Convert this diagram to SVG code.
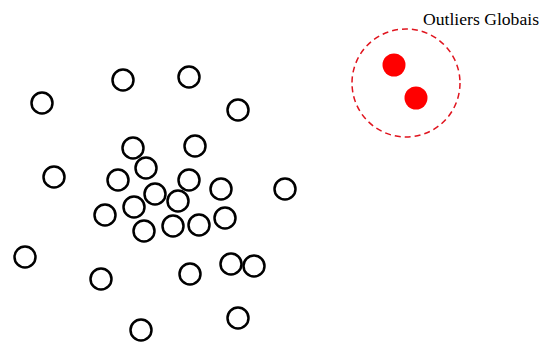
<svg xmlns="http://www.w3.org/2000/svg" width="541" height="342" viewBox="0 0 541 342">
<style>
.n{fill:none;stroke:#000;stroke-width:2.5}
.o{fill:#ff0000;stroke:none}
.g{fill:none;stroke:#e0141e;stroke-width:1.5;stroke-dasharray:6,4}
.t{font-family:"Liberation Serif",serif;font-size:17.5px;fill:#000}
</style>
<rect width="541" height="342" fill="#fff"/>
<g id="normals">
<circle class="n" cx="123" cy="80" r="10.5"/>
<circle class="n" cx="189" cy="77" r="10.5"/>
<circle class="n" cx="42" cy="103" r="10.5"/>
<circle class="n" cx="238" cy="110" r="10.5"/>
<circle class="n" cx="133" cy="148" r="10.5"/>
<circle class="n" cx="195" cy="146" r="10.5"/>
<circle class="n" cx="146" cy="168" r="10.5"/>
<circle class="n" cx="54" cy="177" r="10.5"/>
<circle class="n" cx="118" cy="180" r="10.5"/>
<circle class="n" cx="189" cy="180" r="10.5"/>
<circle class="n" cx="221" cy="189" r="10.5"/>
<circle class="n" cx="285" cy="189" r="10.5"/>
<circle class="n" cx="155" cy="194" r="10.5"/>
<circle class="n" cx="178" cy="201" r="10.5"/>
<circle class="n" cx="134" cy="207" r="10.5"/>
<circle class="n" cx="105" cy="215" r="10.5"/>
<circle class="n" cx="225" cy="218" r="10.5"/>
<circle class="n" cx="144" cy="231" r="10.5"/>
<circle class="n" cx="173" cy="226" r="10.5"/>
<circle class="n" cx="199" cy="225" r="10.5"/>
<circle class="n" cx="25" cy="257" r="10.5"/>
<circle class="n" cx="231" cy="264" r="10.5"/>
<circle class="n" cx="254" cy="266" r="10.5"/>
<circle class="n" cx="190" cy="274" r="10.5"/>
<circle class="n" cx="101" cy="279" r="10.5"/>
<circle class="n" cx="238" cy="318" r="10.5"/>
<circle class="n" cx="141" cy="330" r="10.5"/>
</g>
<g id="outliers">
<circle class="g" cx="406" cy="83" r="54"/>
<circle class="o" cx="394" cy="65" r="11.5"/>
<circle class="o" cx="416" cy="98" r="11.5"/>
<text class="t" x="423" y="25" textLength="116" lengthAdjust="spacingAndGlyphs">Outliers Globais</text>
</g>
</svg>
